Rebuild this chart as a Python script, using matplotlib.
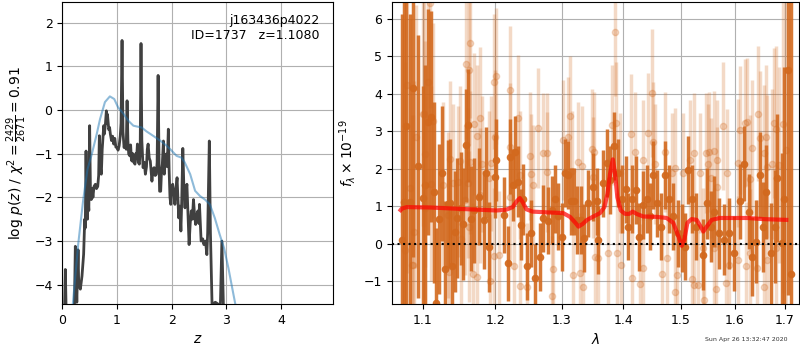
import matplotlib
matplotlib.use('Agg')
import matplotlib.pyplot as plt
from matplotlib.ticker import NullLocator

plt.rcParams['font.size'] = 9

# ---- p(z) panel ----
z_pz = [0.00, 0.04, 0.055, 0.07, 0.20, 0.22, 0.238, 0.25, 0.265, 0.288, 0.30, 0.33, 0.36,
        0.39, 0.41, 0.42, 0.434, 0.445, 0.46, 0.47, 0.485, 0.50, 0.515, 0.53, 0.545, 0.56,
        0.58, 0.605, 0.625, 0.648, 0.665, 0.678, 0.69, 0.70, 0.714, 0.73, 0.745, 0.758,
        0.77, 0.79, 0.806, 0.815, 0.826, 0.837, 0.85, 0.865, 0.879, 0.90, 0.92, 0.94,
        0.96, 0.98, 1.00, 1.02, 1.04, 1.06, 1.075, 1.093, 1.11, 1.13, 1.15, 1.17, 1.185,
        1.20, 1.215, 1.235, 1.25, 1.265, 1.277, 1.29, 1.31, 1.33, 1.345, 1.36, 1.374,
        1.39, 1.41, 1.425, 1.44, 1.455, 1.478, 1.50, 1.52, 1.54, 1.555, 1.57, 1.59, 1.61,
        1.625, 1.64, 1.66, 1.68, 1.70, 1.72, 1.735, 1.753, 1.77, 1.78, 1.80, 1.815, 1.83,
        1.85, 1.865, 1.88, 1.90, 1.92, 1.94, 1.955, 1.97, 1.985, 2.00, 2.02, 2.04, 2.06,
        2.08, 2.10, 2.115, 2.13, 2.15, 2.17, 2.185, 2.205, 2.225, 2.245, 2.26, 2.28, 2.30,
        2.32, 2.34, 2.36, 2.38, 2.40, 2.42, 2.44, 2.46, 2.48, 2.50, 2.51, 2.53, 2.54, 2.57,
        2.59, 2.62, 2.645, 2.66, 2.69, 2.71, 2.74, 2.80, 2.86, 2.89, 2.92, 2.95, 3.00]
logp = [-6.0, -4.6, -3.65, -4.6, -4.7, -4.6, -3.12, -3.7, -4.4, -3.2, -4.0, -4.1, -3.8,
        -3.3, -2.5, -2.7, -0.94, -2.1, -2.5, -2.0, -2.3, -0.36, -1.9, -2.05, -1.8, -2.0,
        -1.75, -1.70, -1.8, -1.75, -1.5, -0.59, -1.0, -1.35, -1.47, -0.9, -0.6, -0.36,
        -0.55, -0.3, -0.02, -0.3, -0.1, -0.25, -0.45, -0.4, -0.55, -0.7, -0.6, -0.78,
        -0.65, -0.85, -0.86, -0.92, -0.82, -0.6, -0.3, 1.59, -0.5, -0.86, -0.78, -0.9, 0.21,
        -0.7, -1.01, -1.05, -0.8, -1.15, -1.17, -1.0, -1.2, -1.24, -1.0, -1.1, -0.78,
        -1.2, -1.24, -0.9, 1.52, -0.7, -1.32, -1.2, -1.47, -1.3, -0.9, -0.78, -1.1, -1.17,
        -1.4, -1.63, -1.35, -1.32, -1.5, -1.47, -1.2, 0.79, -1.2, -1.86, -1.86, -1.4, -1.24,
        -0.71, -1.47, -1.1, -1.01, -1.3, -0.44, -1.4, -2.0, -2.16, -1.8, -1.70, -1.9, -2.16,
        -1.8, -1.55, -2.0, -2.47, -2.2, -2.77, -2.1, -0.88, -1.8, -2.24, -1.9, -1.70, -2.4,
        -3.08, -2.6, -2.31, -2.5, -2.05, -2.4, -2.62, -2.4, -2.31, -2.6, -2.16, -2.7, -3.0, -2.95,
        -3.08, -3.0, -3.31, -2.8, -0.71, -2.8, -4.45, -4.4, -4.45, -4.6, -3.0, -4.6, -6.0]

z_chi = [0.10, 0.19, 0.29, 0.38, 0.46, 0.54, 0.63, 0.69, 0.78, 0.87, 0.95, 1.02, 1.12,
         1.21, 1.30, 1.37, 1.45, 1.54, 1.66, 1.79, 1.91, 2.00, 2.09, 2.18, 2.24, 2.34,
         2.43, 2.52, 2.61, 2.70, 2.79, 2.88, 2.96, 3.04, 3.11, 3.17, 3.30]
chi_curve = [-5.5, -4.47, -3.08, -2.08, -1.36, -1.01, -0.55, -0.21, 0.18, 0.31, 0.25,
             0.06, -0.09, -0.25, -0.36, -0.38, -0.40, -0.49, -0.59, -0.70, -0.82, -0.93,
             -1.05, -1.09, -1.20, -1.47, -1.85, -1.97, -2.05, -2.16, -2.47, -2.85, -3.16,
             -3.62, -4.08, -4.47, -5.5]

# ---- spectrum panel ----
wave_hi = [1.0725, 1.0756, 1.0782, 1.0826, 1.0865, 1.0935, 1.1004, 1.1030, 1.1070, 1.1105,
           1.1148, 1.1180, 1.1214, 1.1253, 1.1298, 1.1333, 1.1368, 1.1399, 1.1435, 1.1466,
           1.1511, 1.1542, 1.1585, 1.1608, 1.1653, 1.1703, 1.1766, 1.1838, 1.1869, 1.1910,
           1.1994, 1.2018, 1.2134, 1.2181, 1.2216, 1.2254, 1.2293, 1.2337, 1.2377, 1.2415,
           1.2465, 1.2525, 1.2585, 1.2665, 1.2715, 1.2792, 1.2844, 1.2895, 1.2946, 1.2999,
           1.3050, 1.3102, 1.3145, 1.3192, 1.3235, 1.3299, 1.3356, 1.3421, 1.3503, 1.3559,
           1.3584, 1.3667, 1.3723, 1.3776, 1.3848, 1.3905, 1.3972, 1.4038, 1.4082, 1.4149,
           1.4213, 1.4270, 1.4337, 1.4396, 1.4454, 1.4511, 1.4570, 1.4647, 1.4717, 1.4788,
           1.4864, 1.4944, 1.5027, 1.5076, 1.5136, 1.5210, 1.5272, 1.5396, 1.5488, 1.5549,
           1.5611, 1.5705, 1.5800, 1.5894, 1.5989, 1.6104, 1.6182, 1.6280, 1.6333, 1.6411,
           1.6496, 1.6556, 1.6609, 1.6709, 1.6790, 1.6836, 1.6931, 1.6990, 1.7060, 1.7115]
flux_hi = [0.11, 1.12, 3.14, 1.12, 4.14, 2.07, 1.21, 1.57, 3.25, 3.39,
           1.37, -1.58, 0.66, 1.88, -0.67, 1.06, 1.08, -0.60, 0.33, 0.68,
           0.95, 0.53, 2.62, 3.16, 0.67, 0.89, 1.26, 0.64, 1.90, -0.09,
           1.79, 2.23, 0.77, -0.51, 2.32, 1.57, 2.45, 1.66, 0.51, 1.19,
           -0.60, 0.28, -0.91, -0.35, 0.68, 0.62, 0.90, 1.19, 0.73, 0.19,
           1.88, 1.84, 1.13, 1.13, 0.64, 0.64, 0.15, 1.08, 1.52, 1.13,
           0.11, 1.61, 2.15, 1.70, 2.61, 1.88, 1.19, 1.45, 0.46, 1.19,
           1.44, 0.18, 1.04, 1.19, 0.73, 1.84, 1.08, 0.46, 1.84, 1.19,
           0.73, 0.28, 0.15, -0.07, 1.97, 1.19, 0.46, -0.29, 1.08, 0.46,
           0.86, 0.28, 0.11, 0.28, -0.25, 1.13, 2.13, 0.86, -0.34, 0.06,
           1.84, 0.46, 1.38, -0.25, 0.46, 1.75, 0.02, 1.20, 4.63, -0.80]
err_hi = [6.0, 6.0, 5.5, 5.0, 4.5, 3.5, 3.0, 3.2, 3.0, 2.8,
          2.4, 2.0, 2.0, 1.8, 1.8, 1.7, 1.7, 1.6, 1.6, 1.6,
          1.5, 1.5, 1.5, 1.5, 1.4, 1.4, 1.3, 1.3, 1.2, 1.2,
          1.1, 1.1, 1.0, 1.0, 1.0, 0.95, 0.95, 0.95, 0.95, 0.95,
          0.9, 0.9, 0.9, 0.9, 0.9, 0.9, 0.9, 0.9, 0.9, 0.9,
          0.9, 0.9, 0.9, 0.9, 0.9, 0.9, 0.9, 0.9, 0.9, 0.9,
          0.9, 0.9, 0.9, 0.9, 0.9, 0.9, 0.9, 0.9, 0.9, 0.9,
          0.9, 0.9, 0.9, 0.9, 0.9, 0.9, 0.9, 0.9, 0.9, 0.9,
          0.9, 0.9, 0.9, 0.9, 0.9, 0.9, 0.9, 0.95, 0.95, 0.95,
          0.95, 0.95, 0.95, 0.95, 1.0, 1.0, 1.0, 1.0, 1.05, 1.1,
          1.15, 1.2, 1.25, 1.35, 1.5, 1.7, 2.4, 3.5, 6.0, 8.0]

wave_lo = [1.0769, 1.0791, 1.0826, 1.0857, 1.0865, 1.0878, 1.0912, 1.1008, 1.1017, 1.1028,
           1.1028, 1.1070, 1.1097, 1.1114, 1.1135, 1.1267, 1.1333, 1.1356, 1.1366, 1.1400,
           1.1475, 1.1498, 1.1511, 1.1578, 1.1585, 1.1608, 1.1628, 1.1628, 1.1643, 1.1643,
           1.1690, 1.1703, 1.1734, 1.1747, 1.1780, 1.1784, 1.1815, 1.1915, 1.1927, 1.1935,
           1.1977, 1.1977, 1.1994, 1.2007, 1.2053, 1.2217, 1.2217, 1.2221, 1.2278, 1.2337,
           1.2367, 1.2367, 1.2474, 1.2514, 1.2525, 1.2564, 1.2639, 1.2715, 1.2766, 1.2766,
           1.2855, 1.2869, 1.3022, 1.3102, 1.3129, 1.3166, 1.3180, 1.3251, 1.3288, 1.3315,
           1.3340, 1.3475, 1.3503, 1.3517, 1.3531, 1.3584, 1.3749, 1.3804, 1.3859, 1.3871,
           1.3888, 1.3943, 1.3959, 1.4128, 1.4149, 1.4196, 1.4282, 1.4328, 1.4337, 1.4425,
           1.4494, 1.4511, 1.4539, 1.4660, 1.4717, 1.4746, 1.4836, 1.4895, 1.4895, 1.4925,
           1.5045, 1.5166, 1.5196, 1.5245, 1.5245, 1.5307, 1.5349, 1.5396, 1.5425, 1.5457,
           1.5505, 1.5518, 1.5549, 1.5611, 1.5611, 1.5643, 1.5674, 1.5674, 1.5781, 1.5831,
           1.5863, 1.5894, 1.6073, 1.6073, 1.6105, 1.6202, 1.6218, 1.6249, 1.6294, 1.6294,
           1.6333, 1.6444, 1.6464, 1.6497, 1.6576, 1.6576, 1.6609, 1.6642, 1.6642, 1.6742,
           1.6776, 1.6810, 1.6810, 1.6878, 1.6950, 1.7020]
flux_lo = [-0.16, 4.23, 1.48, -0.56, -0.56, 0.33, 2.85, 3.47, 3.46, 2.39,
           0.95, 4.32, 6.42, 1.60, 3.28, 1.57, 0.77, -0.76, 2.25, 1.63,
           1.66, 2.21, 0.12, 1.17, 4.79, 1.63, 4.64, 0.46, 5.36, 2.17,
           -0.80, 3.19, -0.89, 2.87, 3.34, 1.29, 2.13, 1.75, -1.00, 2.15,
           4.32, -0.32, 2.84, 4.47, -0.29, 2.59, 1.26, 4.11, -0.60, 3.34,
           1.84, -1.12, -1.14, 2.34, 1.86, 1.57, 3.08, 2.41, 2.41, 1.92,
           -1.38, -0.67, 2.77, 2.85, 3.40, 1.95, -0.82, 2.17, -0.78, 2.08,
           -1.14, 2.52, 1.77, 2.44, -0.34, -0.38, -0.25, 3.17, 5.63, 3.23,
           -0.25, 1.88, -0.56, 2.93, -0.91, 2.45, -1.06, 2.23, -0.65, 2.96,
           4.01, 2.72, 2.13, -0.80, 2.45, -0.38, 1.88, 2.01, -1.29, -0.82,
           1.88, 2.23, -0.94, 2.41, -1.09, -1.10, 1.88, -0.11, -1.49, 2.41,
           2.13, 2.45, 1.75, 2.47, -0.11, -1.21, 2.23, 1.52, 3.14, -1.05,
           1.88, -0.56, 2.15, -0.43, 3.03, 3.21, -0.58, 3.24, 1.73, -0.25,
           2.56, -0.63, 3.47, 2.81, 2.43, -1.14, 2.85, 2.06, -0.43, 2.13,
           3.21, 3.07, -0.11, 2.10, 3.20, 2.50]
err_lo = [5.0, 5.0, 4.5, 4.0, 4.0, 4.0, 3.5, 3.0, 3.0, 3.0,
          3.0, 2.8, 2.8, 2.6, 2.6, 2.2, 2.2, 2.2, 2.1, 2.1,
          2.0, 2.0, 2.0, 2.0, 2.0, 2.0, 2.0, 2.0, 2.0, 1.9,
          1.9, 1.9, 1.9, 1.9, 1.9, 1.8, 1.8, 1.8, 1.8, 1.8,
          1.8, 1.8, 1.8, 1.8, 1.7, 1.7, 1.7, 1.7, 1.7, 1.7,
          1.7, 1.7, 1.7, 1.7, 1.6, 1.6, 1.6, 1.6, 1.6, 1.6,
          1.6, 1.6, 1.6, 1.6, 1.6, 1.6, 1.6, 1.6, 1.6, 1.6,
          1.6, 1.6, 1.6, 1.6, 1.6, 1.6, 1.6, 1.6, 1.7, 1.6,
          1.6, 1.6, 1.6, 1.6, 1.6, 1.6, 1.6, 1.6, 1.6, 1.6,
          1.7, 1.6, 1.6, 1.6, 1.6, 1.6, 1.6, 1.6, 1.6, 1.6,
          1.6, 1.6, 1.6, 1.6, 1.6, 1.6, 1.6, 1.6, 1.6, 1.6,
          1.6, 1.6, 1.6, 1.6, 1.6, 1.6, 1.6, 1.6, 1.7, 1.7,
          1.7, 1.7, 1.7, 1.7, 1.7, 1.7, 1.7, 1.7, 1.7, 1.7,
          1.8, 1.8, 1.8, 1.8, 1.8, 1.8, 1.9, 1.9, 1.9, 2.0,
          2.0, 2.2, 2.2, 2.6, 4.5, 6.0]

wave_model = [1.0710, 1.0725, 1.0790, 1.1097, 1.1533, 1.2018, 1.2158, 1.2254, 1.2316, 1.2361,
              1.2400, 1.2460, 1.2552, 1.2766, 1.3022, 1.3129, 1.3210, 1.3263, 1.3330, 1.3402,
              1.3503, 1.3612, 1.3683, 1.3733, 1.3776, 1.3822, 1.3860, 1.3898, 1.3955, 1.4027,
              1.4098, 1.4155, 1.4222, 1.4337, 1.4570, 1.4746, 1.4864, 1.4955, 1.5015, 1.5063,
              1.5118, 1.5196, 1.5288, 1.5362, 1.5411, 1.5473, 1.5567, 1.5722, 1.6249, 1.6576,
              1.7027]
flux_model = [0.90, 0.94, 0.98, 0.97, 0.93, 0.89, 0.91, 0.98, 1.14, 1.22,
              1.12, 0.92, 0.86, 0.84, 0.82, 0.72, 0.57, 0.46, 0.53, 0.64,
              0.73, 0.82, 0.98, 1.33, 1.86, 2.25, 1.86, 1.24, 0.89, 0.80,
              0.80, 0.86, 0.80, 0.73, 0.72, 0.69, 0.56, 0.21, -0.05, 0.11,
              0.56, 0.66, 0.64, 0.46, 0.33, 0.46, 0.64, 0.69, 0.69, 0.66,
              0.64]

wave_ticks = [1.1, 1.2, 1.3, 1.4, 1.5, 1.6, 1.7]

fig = plt.figure(figsize=(8, 3.5), dpi=100)

ax = fig.add_axes([0.0779, 0.1314, 0.3388, 0.8629])
ax.plot(z_pz, logp, color='0.25', linewidth=2)
ax.plot(z_chi, chi_curve, color='#1f77b4', alpha=0.5, linewidth=1.5)
ax.set_xlim(0, 4.96)
ax.set_ylim(-4.44, 2.47)
ax.set_xticks([0, 1, 2, 3, 4])
ax.set_yticks([-4, -3, -2, -1, 0, 1, 2])
ax.grid(True)
ax.set_xlabel(r'$z$', fontsize=10)
ax.set_ylabel(r'$\log\,p(z)$ / $\chi^2=\frac{2429}{2671}=0.91$', fontsize=10)
ax.text(0.95, 0.96, 'j163436p4022\nID=1737   z=1.1080', transform=ax.transAxes,
        ha='right', va='top', fontsize=9)

ax2 = fig.add_axes([0.49, 0.1314, 0.5088, 0.8629])
ax2.errorbar(wave_lo, flux_lo, yerr=err_lo, marker='o', ms=4.5, linestyle='none',
             color='chocolate', alpha=0.25, elinewidth=2.5, capsize=0)
ax2.errorbar(wave_hi, flux_hi, yerr=err_hi, marker='o', ms=4.5, linestyle='none',
             color='chocolate', alpha=0.9, elinewidth=2.5, capsize=0)
ax2.plot(wave_model, flux_model, color='r', alpha=0.7, linewidth=3, zorder=5)
ax2.axhline(0, color='k', linestyle=':', linewidth=1.5, zorder=6)
ax2.set_xscale('log')
ax2.set_xlim(1.06, 1.729)
ax2.set_ylim(-1.6, 6.44)
ax2.set_xticks(wave_ticks)
ax2.set_xticklabels(['%.1f' % w for w in wave_ticks])
ax2.xaxis.set_minor_locator(NullLocator())
ax2.set_yticks([-1, 0, 1, 2, 3, 4, 5, 6])
ax2.grid(True)
ax2.set_xlabel(r'$\lambda$', fontsize=10)
ax2.set_ylabel(r'$f_\lambda\times10^{-19}$', fontsize=10)

fig.text(0.984, 0.022, 'Sun Apr 26 13:32:47 2020', ha='right', va='bottom',
         fontsize=4.5, color='0.2')

fig.savefig('out.png', dpi=100)
